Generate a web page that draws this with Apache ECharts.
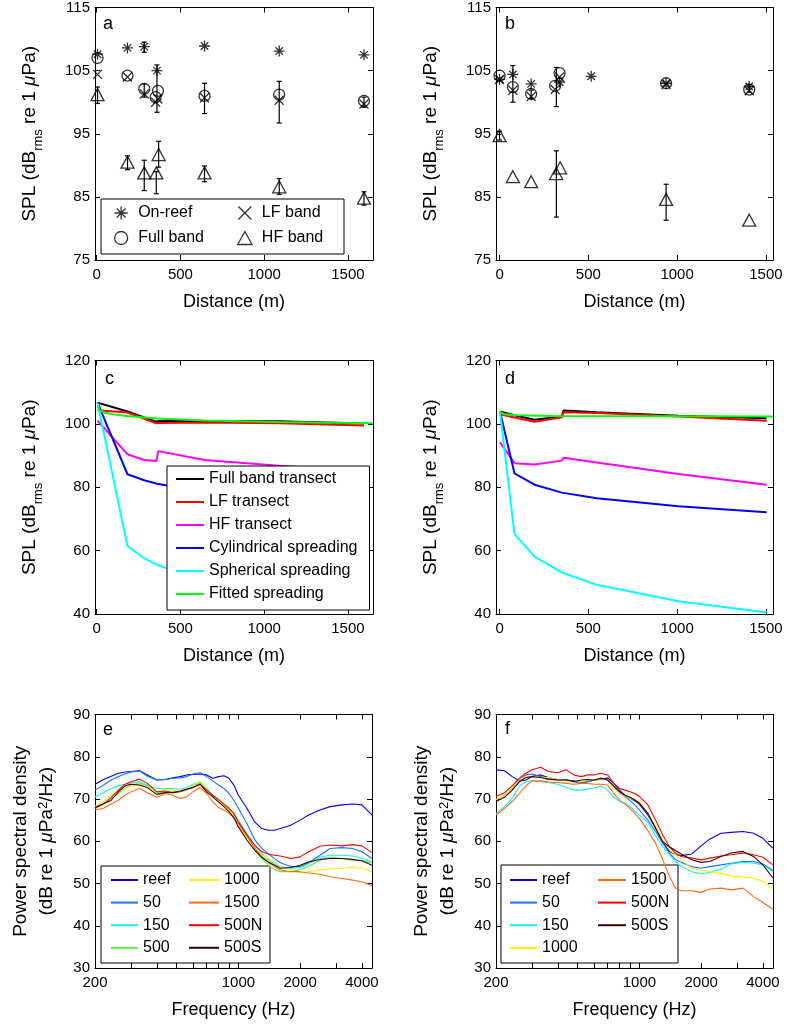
<!DOCTYPE html>
<html><head><meta charset="utf-8">
<script src="https://cdn.jsdelivr.net/npm/echarts@6/dist/echarts.min.js"></script>
<style>html,body{margin:0;padding:0;background:#fff}#c{width:787px;height:1034px}</style>
</head><body><div id="c"></div>
<script>
// ---------- Panel a (distance, m / SPL dB) ----------
const aOnReefX = [5, 184, 284, 360, 644, 1090, 1596];
const aOnReefY = [107.6, 108.6, 108.8, 105.0, 108.9, 108.1, 107.5];
const aFullX = [5, 184, 284, 352, 366, 644, 1090, 1596];
const aFullY = [107.0, 104.2, 102.1, 100.8, 101.8, 101.0, 101.2, 100.2];
const aLFX = [5, 184, 284, 352, 366, 644, 1090, 1596];
const aLFY = [104.4, 104.0, 101.3, 100.0, 100.5, 100.7, 100.3, 99.7];
const aHFX = [5, 184, 284, 356, 370, 644, 1090, 1596];
const aHFY = [101.2, 90.5, 88.8, 88.8, 91.7, 88.8, 86.6, 84.8];
const aErrX  = [5, 184, 284, 284, 284, 360, 356, 370, 644, 644, 1090, 1090, 1596, 1596];
const aErrLo = [99.8, 89.3, 107.9, 100.8, 86.0, 98.4, 85.5, 89.7, 98.2, 87.4, 96.7, 85.4, 99.2, 83.7];
const aErrHi = [102.4, 91.5, 109.5, 102.9, 90.8, 105.9, 89.0, 93.8, 103.0, 89.9, 103.3, 87.9, 100.8, 85.8];

// ---------- Panel b ----------
const bOnReefX = [0, 75, 178, 338, 516, 938, 1406];
const bOnReefY = [103.6, 104.4, 102.9, 103.2, 104.1, 103.0, 102.5];
const bFullX = [0, 75, 178, 313, 338, 938, 1406];
const bFullY = [104.2, 102.4, 101.3, 102.6, 104.6, 103.0, 102.0];
const bLFX = [0, 75, 178, 313, 338, 938, 1406];
const bLFY = [103.6, 101.9, 100.9, 102.0, 104.0, 102.8, 101.8];
const bHFX = [0, 75, 178, 319, 341, 938, 1406];
const bHFY = [94.7, 88.2, 87.4, 88.7, 89.6, 84.6, 81.3];
const bErrX  = [0, 75, 178, 320, 320, 938, 1406];
const bErrLo = [94.0, 100.0, 100.6, 99.3, 81.8, 81.3, 101.6];
const bErrHi = [95.4, 105.8, 101.9, 105.5, 92.3, 87.0, 102.8];

// ---------- Panel c ----------
const cDist = [5, 184, 284, 356, 368, 644, 1090, 1596];
const cFull = [106.7, 103.9, 102.0, 100.7, 100.9, 100.9, 100.8, 100.1];
const cLF   = [104.3, 103.6, 101.6, 100.2, 100.3, 100.4, 100.2, 99.5];
const cHF   = [101.0, 90.4, 88.6, 88.3, 91.4, 88.6, 86.8, 85.0];
const cCyl  = [106.7, 84.1, 82.2, 81.2, 81.0, 78.6, 76.3, 74.7];
const cSph  = [106.7, 61.4, 57.6, 55.6, 55.4, 50.5, 45.9, 42.6];
const cFitX = [5, 20, 50, 100, 180, 360, 640, 1090, 1650];
const cFit  = [105.5, 104.2, 103.5, 103.0, 102.5, 101.7, 101.1, 100.6, 100.2];

// ---------- Panel d ----------
const dDist = [2, 84, 197, 351, 360, 547, 1007, 1504];
const dFull = [103.9, 102.7, 101.3, 102.3, 104.2, 103.7, 102.6, 101.8];
const dLF   = [103.0, 102.0, 100.7, 102.1, 103.7, 103.4, 102.3, 101.0];
const dHF   = [94.2, 87.6, 87.2, 88.4, 89.3, 87.8, 84.2, 80.8];
const dCyl  = [104.0, 84.4, 80.8, 78.3, 78.2, 76.5, 74.0, 72.1];
const dSph  = [104.0, 65.3, 58.1, 53.1, 52.9, 49.2, 44.0, 40.5];
const dFitX = [2, 30, 100, 300, 1000, 1540];
const dFit  = [103.8, 103.0, 102.7, 102.5, 102.4, 102.3];

// ---------- Panels e, f (frequency, Hz / PSD) ----------
const freqHz = [200, 220, 240, 260, 280, 300, 330, 360, 400, 440, 480, 520, 560, 600, 650, 700, 750, 800, 850, 900, 950, 1000, 1100, 1200, 1300, 1400, 1500, 1600, 1800, 2000, 2200, 2500, 2800, 3200, 3600, 4000, 4480];
const eReef = [73.5, 74.6, 75.4, 76.1, 76.4, 76.5, 76.7, 75.7, 74.5, 74.6, 75.0, 75.3, 75.7, 75.8, 75.9, 75.7, 74.9, 75.3, 75.5, 74.9, 73.3, 70.9, 67.8, 64.6, 63.0, 62.6, 62.6, 63.0, 63.8, 65.0, 66.2, 67.4, 68.2, 68.6, 68.8, 68.6, 66.2];
const e50   = [72.1, 73.3, 74.5, 75.3, 75.9, 76.4, 76.7, 75.4, 74.5, 74.6, 74.9, 75.0, 75.3, 75.9, 76.2, 75.3, 74.3, 73.3, 72.5, 71.3, 69.7, 67.8, 64.2, 60.4, 58.3, 57.0, 55.9, 54.9, 54.0, 54.0, 54.9, 56.7, 58.3, 58.5, 58.3, 57.5, 55.9];
const e150  = [70.5, 71.5, 72.5, 73.1, 73.5, 73.8, 74.1, 73.3, 72.5, 72.5, 72.5, 72.3, 72.7, 73.5, 74.1, 72.5, 70.9, 69.7, 68.8, 67.8, 66.6, 65.0, 61.8, 59.1, 57.1, 55.5, 54.7, 54.0, 53.6, 53.8, 54.7, 56.2, 56.7, 56.7, 56.5, 55.9, 55.1];
const e500  = [68.0, 68.9, 70.1, 71.3, 72.5, 73.3, 73.8, 73.1, 71.5, 71.7, 71.7, 71.7, 72.1, 73.1, 73.8, 72.1, 70.7, 69.6, 68.6, 67.5, 66.2, 64.2, 61.1, 58.3, 55.9, 54.3, 53.3, 52.8, 52.8, 53.3, 54.1, 55.5, 56.2, 55.9, 55.5, 55.4, 54.9];
const e1000 = [68.3, 69.3, 70.9, 72.1, 72.7, 73.1, 73.3, 72.7, 71.7, 72.3, 72.1, 71.7, 72.3, 73.1, 74.3, 72.1, 70.5, 69.6, 68.8, 67.5, 66.0, 64.1, 61.1, 58.3, 56.7, 55.9, 55.1, 54.1, 53.2, 52.5, 52.8, 53.2, 53.5, 53.6, 53.8, 53.6, 52.8];
const e1500 = [67.4, 67.8, 68.8, 69.7, 70.9, 71.7, 72.5, 71.5, 70.4, 71.3, 70.9, 70.1, 70.5, 71.7, 72.7, 71.3, 69.3, 68.0, 67.4, 66.6, 65.6, 64.1, 61.2, 58.5, 56.3, 54.9, 54.0, 53.2, 52.8, 52.8, 52.5, 52.2, 51.6, 51.2, 50.8, 50.4, 49.5];
const e500N = [67.8, 68.8, 70.4, 72.1, 73.5, 74.1, 74.7, 73.7, 71.7, 71.9, 71.5, 71.7, 72.3, 72.7, 73.5, 72.1, 70.9, 69.9, 68.8, 67.8, 66.6, 64.6, 61.5, 59.1, 57.5, 57.0, 56.7, 56.5, 55.9, 56.3, 57.5, 58.8, 59.1, 58.9, 59.2, 58.9, 57.3];
const e500S = [68.0, 68.9, 69.7, 71.7, 73.1, 73.5, 73.3, 72.7, 71.1, 71.5, 71.5, 71.9, 72.3, 72.7, 73.5, 71.7, 70.5, 69.3, 68.2, 67.0, 65.6, 63.4, 60.3, 57.9, 56.2, 55.1, 54.3, 53.6, 53.8, 54.3, 55.1, 55.7, 55.9, 55.9, 55.7, 55.4, 54.3];

const fReef = [76.9, 76.7, 75.3, 74.3, 74.5, 75.4, 75.7, 75.1, 74.6, 74.5, 74.3, 73.9, 74.1, 74.5, 74.6, 75.0, 73.7, 72.1, 70.9, 70.2, 69.6, 68.8, 66.2, 63.1, 59.9, 57.6, 56.8, 56.6, 57.0, 58.9, 60.5, 61.9, 62.1, 62.3, 61.9, 60.7, 58.3];
const f50   = [69.8, 70.9, 72.5, 74.5, 75.7, 75.9, 75.3, 74.7, 74.5, 74.5, 74.1, 73.7, 74.1, 74.5, 74.9, 74.5, 72.9, 71.3, 70.6, 69.6, 68.6, 67.4, 65.0, 62.3, 59.5, 57.2, 55.7, 55.0, 54.0, 53.6, 54.0, 54.4, 54.8, 55.2, 55.2, 54.6, 53.1];
const f150  = [66.6, 68.2, 70.2, 73.1, 74.1, 74.3, 74.1, 73.9, 73.5, 72.8, 72.1, 72.1, 72.4, 72.6, 73.1, 72.1, 70.4, 69.4, 69.0, 68.3, 67.2, 66.2, 64.4, 61.3, 58.7, 56.8, 55.2, 54.0, 52.8, 52.3, 52.6, 53.4, 54.6, 55.0, 54.8, 54.4, 52.8];
const f1000 = [69.8, 70.9, 72.5, 74.5, 75.3, 75.4, 75.1, 75.1, 74.6, 74.3, 74.1, 74.1, 74.5, 74.6, 74.5, 74.6, 72.5, 71.3, 70.7, 70.2, 69.9, 69.4, 66.6, 63.5, 60.3, 58.0, 56.8, 55.6, 53.6, 53.1, 52.8, 52.4, 51.8, 51.5, 51.3, 50.5, 48.7];
const f1500 = [66.2, 67.8, 69.4, 71.3, 73.1, 74.3, 74.3, 74.0, 73.9, 73.7, 73.5, 73.7, 73.7, 73.5, 73.5, 73.3, 71.3, 69.8, 68.8, 67.8, 66.6, 65.4, 62.5, 59.5, 55.6, 51.7, 48.9, 48.3, 48.3, 47.9, 48.7, 48.9, 48.5, 48.9, 46.9, 45.5, 43.9];
const f500N = [70.6, 71.5, 73.1, 74.9, 76.1, 76.9, 77.5, 76.5, 76.2, 76.9, 75.7, 75.3, 75.7, 75.7, 76.1, 75.7, 73.7, 72.5, 72.1, 71.7, 71.3, 70.6, 68.6, 65.0, 61.5, 58.7, 57.2, 56.4, 56.0, 55.6, 56.0, 56.5, 56.8, 57.2, 56.8, 56.2, 54.4];
const f500S = [69.4, 70.4, 72.1, 74.1, 75.1, 75.3, 75.1, 74.7, 74.5, 74.5, 74.1, 74.5, 74.6, 74.5, 74.9, 74.5, 73.1, 71.7, 70.9, 70.4, 69.8, 69.0, 66.6, 63.1, 59.9, 58.7, 57.8, 57.0, 55.6, 55.0, 55.2, 56.4, 57.2, 57.6, 56.4, 54.4, 51.3];

// ---------- tick labels ----------
const distTicks = [0, 500, 1000, 1500];
const splTicksAB = [75, 85, 95, 105, 115];
const freqLabels = [200, 1000, 2000, 4000];
const freqTicks = [300, 400, 500, 600, 700, 800, 900, 1000, 2000, 3000, 4000];
const freqMin = 200, freqMax = 4480;

// ---------- build ----------
const FF = "'Liberation Sans', Arial, Helvetica, sans-serif";
const L10 = Math.log10;
const zip = (xs, ys, f) => xs.map((x, i) => [f ? f(x) : x, ys[i]]);
const errs = (xs, lo, hi) => xs.map((x, i) => [x, lo[i], hi[i]]);
const SYM = {
  star: 'path://M5,0L5,10M0,5L10,5M1.6,1.6L8.4,8.4M8.4,1.6L1.6,8.4',
  cross: 'path://M0,0L10,10M10,0L0,10',
  circle: 'path://M0,5A5,5,0,1,1,10,5A5,5,0,1,1,0,5Z',
  tri: 'path://M5,0L10,9L0,9Z'
};

const grids = [
  {left: 95, top: 6, width: 278, height: 254},
  {left: 496, top: 6, width: 277, height: 254},
  {left: 95, top: 360.5, width: 278, height: 253.5},
  {left: 496, top: 360.5, width: 277, height: 253.5},
  {left: 95, top: 714.5, width: 277, height: 253.5},
  {left: 496, top: 714.5, width: 277, height: 253.5}
].map(g => Object.assign({containLabel: false, show: false}, g));

const axLine = {show: true, onZero: false, lineStyle: {color: '#000', width: 1}};
const plainFmt = v => String(v);
function xAxes(gi, min, max, ticks, labels, fmt, name) {
  const base = {gridIndex: gi, type: 'value', min, max, splitLine: {show: false}, axisLine: axLine,
    axisTick: {show: true, inside: true, length: 5, customValues: ticks, lineStyle: {color: '#000'}}};
  return [
    Object.assign({}, base, {position: 'bottom',
      axisLabel: {show: true, customValues: labels, formatter: fmt, color: '#000', fontSize: 15, fontFamily: FF, margin: 7},
      name, nameLocation: 'middle', nameGap: 33, nameTextStyle: {color: '#000', fontSize: 18, fontFamily: FF}}),
    Object.assign({}, base, {position: 'top', axisLabel: {show: false}})
  ];
}
function yAxes(gi, min, max, ticks, name, gap, rich) {
  const base = {gridIndex: gi, type: 'value', min, max, splitLine: {show: false}, axisLine: axLine,
    axisTick: {show: true, inside: true, length: 5, customValues: ticks, lineStyle: {color: '#000'}}};
  return [
    Object.assign({}, base, {position: 'left',
      axisLabel: {show: true, customValues: ticks, formatter: plainFmt, color: '#000', fontSize: 15, fontFamily: FF, margin: 5},
      name, nameLocation: 'middle', nameGap: gap, nameTextStyle: {color: '#000', fontFamily: FF, rich}}),
    Object.assign({}, base, {position: 'right', axisLabel: {show: false}})
  ];
}
const tokBase = {fontFamily: FF, color: '#000'};
const splName = '{n|SPL (dB}{s|rms}{n| re 1 }{i|μ}{n|Pa)}';
const splRich = {
  n: Object.assign({fontSize: 19, lineHeight: 22, verticalAlign: 'top'}, tokBase),
  s: Object.assign({fontSize: 13, lineHeight: 14, padding: [12, 0, 0, 0], verticalAlign: 'top'}, tokBase),
  i: Object.assign({fontSize: 19, lineHeight: 22, verticalAlign: 'top', fontStyle: 'italic'}, tokBase)
};
const psdName = '{n|Power spectral density}\n{n|(dB re 1 }{i|μ}{n|Pa}{p|2}{n|/Hz)}';
const psdRich = {
  n: Object.assign({fontSize: 19, lineHeight: 26, verticalAlign: 'top'}, tokBase),
  i: Object.assign({fontSize: 19, lineHeight: 26, verticalAlign: 'top', fontStyle: 'italic'}, tokBase),
  p: Object.assign({fontSize: 13, lineHeight: 10, verticalAlign: 'top'}, tokBase)
};
const freqFmt = v => String(Math.round(Math.pow(10, v)));

const xAxis = [].concat(
  xAxes(0, -10, 1650, distTicks, distTicks, plainFmt, 'Distance (m)'),
  xAxes(1, -20, 1540, distTicks, distTicks, plainFmt, 'Distance (m)'),
  xAxes(2, -10, 1650, distTicks, distTicks, plainFmt, 'Distance (m)'),
  xAxes(3, -20, 1540, distTicks, distTicks, plainFmt, 'Distance (m)'),
  xAxes(4, L10(freqMin), L10(freqMax), freqTicks.map(L10), freqLabels.map(L10), freqFmt, 'Frequency (Hz)'),
  xAxes(5, L10(freqMin), L10(freqMax), freqTicks.map(L10), freqLabels.map(L10), freqFmt, 'Frequency (Hz)')
);
const t40 = [40, 60, 80, 100, 120], t30 = [30, 40, 50, 60, 70, 80, 90];
const yAxis = [].concat(
  yAxes(0, 75, 115, splTicksAB, splName, 53, splRich),
  yAxes(1, 75, 115, splTicksAB, splName, 53, splRich),
  yAxes(2, 40, 120, t40, splName, 53, splRich),
  yAxes(3, 40, 120, t40, splName, 53, splRich),
  yAxes(4, 30, 90, t30, psdName, 32, psdRich),
  yAxes(5, 30, 90, t30, psdName, 32, psdRich)
);

function scat(name, gi, xs, ys, sym, size) {
  return {type: 'scatter', name, xAxisIndex: 2 * gi, yAxisIndex: 2 * gi, data: zip(xs, ys), symbol: sym, symbolSize: size,
    itemStyle: {color: 'rgba(0,0,0,0)', borderColor: '#000', borderWidth: 1.3}, emphasis: {disabled: true}};
}
function errRender(params, api) {
  const x = api.value(0), lo = api.value(1), hi = api.value(2);
  const p1 = api.coord([x, lo]), p2 = api.coord([x, hi]);
  const w = 2.5, st = {stroke: '#000', lineWidth: 1.2};
  return {type: 'group', children: [
    {type: 'line', shape: {x1: p1[0], y1: p1[1], x2: p2[0], y2: p2[1]}, style: st},
    {type: 'line', shape: {x1: p1[0] - w, y1: p1[1], x2: p1[0] + w, y2: p1[1]}, style: st},
    {type: 'line', shape: {x1: p2[0] - w, y1: p2[1], x2: p2[0] + w, y2: p2[1]}, style: st}
  ]};
}
function errS(gi, data) {
  return {type: 'custom', xAxisIndex: 2 * gi, yAxisIndex: 2 * gi, data, encode: {x: 0, y: [1, 2]}, renderItem: errRender, silent: true};
}
function ln(name, gi, data, color, w) {
  return {type: 'line', name, xAxisIndex: 2 * gi, yAxisIndex: 2 * gi, data, symbol: 'none', showSymbol: false,
    color, lineStyle: {color, width: w}, emphasis: {disabled: true}};
}
const C = {reef: '#0000e8', '50': '#1a72ff', '150': '#10f0ff', '500': '#55ee44', '1000': '#f5f500', '1500': '#ff6a10', '500N': '#ff0000', '500S': '#3a0000'};

const series = [
  errS(0, errs(aErrX, aErrLo, aErrHi)),
  scat('On-reef', 0, aOnReefX, aOnReefY, SYM.star, 11),
  scat('Full band', 0, aFullX, aFullY, SYM.circle, 11),
  scat('LF band', 0, aLFX, aLFY, SYM.cross, 9),
  scat('HF band', 0, aHFX, aHFY, SYM.tri, [13, 12]),
  errS(1, errs(bErrX, bErrLo, bErrHi)),
  scat('On-reef', 1, bOnReefX, bOnReefY, SYM.star, 11),
  scat('Full band', 1, bFullX, bFullY, SYM.circle, 11),
  scat('LF band', 1, bLFX, bLFY, SYM.cross, 9),
  scat('HF band', 1, bHFX, bHFY, SYM.tri, [13, 12]),
  ln('Full band transect', 2, zip(cDist, cFull), '#000000', 2),
  ln('LF transect', 2, zip(cDist, cLF), '#ff0000', 2),
  ln('HF transect', 2, zip(cDist, cHF), '#ff00ff', 2),
  ln('Cylindrical spreading', 2, zip(cDist, cCyl), '#0000ff', 2),
  ln('Spherical spreading', 2, zip(cDist, cSph), '#00ffff', 2),
  ln('Fitted spreading', 2, zip(cFitX, cFit), '#00ff00', 2),
  ln('Full band transect', 3, zip(dDist, dFull), '#000000', 2),
  ln('LF transect', 3, zip(dDist, dLF), '#ff0000', 2),
  ln('HF transect', 3, zip(dDist, dHF), '#ff00ff', 2),
  ln('Cylindrical spreading', 3, zip(dDist, dCyl), '#0000ff', 2),
  ln('Spherical spreading', 3, zip(dDist, dSph), '#00ffff', 2),
  ln('Fitted spreading', 3, zip(dFitX, dFit), '#00ff00', 2),
  ln('reef', 4, zip(freqHz, eReef, L10), C.reef, 1.1),
  ln('50', 4, zip(freqHz, e50, L10), C['50'], 1.1),
  ln('150', 4, zip(freqHz, e150, L10), C['150'], 1.1),
  ln('500', 4, zip(freqHz, e500, L10), C['500'], 1.1),
  ln('1000', 4, zip(freqHz, e1000, L10), C['1000'], 1.1),
  ln('1500', 4, zip(freqHz, e1500, L10), C['1500'], 1.1),
  ln('500N', 4, zip(freqHz, e500N, L10), C['500N'], 1.1),
  ln('500S', 4, zip(freqHz, e500S, L10), C['500S'], 1.1),
  ln('reef', 5, zip(freqHz, fReef, L10), C.reef, 1.1),
  ln('50', 5, zip(freqHz, f50, L10), C['50'], 1.1),
  ln('150', 5, zip(freqHz, f150, L10), C['150'], 1.1),
  ln('1000', 5, zip(freqHz, f1000, L10), C['1000'], 1.1),
  ln('1500', 5, zip(freqHz, f1500, L10), C['1500'], 1.1),
  ln('500N', 5, zip(freqHz, f500N, L10), C['500N'], 1.1),
  ln('500S', 5, zip(freqHz, f500S, L10), C['500S'], 1.1)
];

const legTxt = {fontSize: 16, color: '#000', fontFamily: FF};
const symLeg = {orient: 'vertical', itemWidth: 24, itemHeight: 13, itemGap: 9, padding: 0, textStyle: legTxt,
  itemStyle: {color: 'rgba(0,0,0,0)', borderColor: '#000', borderWidth: 1.3}, symbolKeepAspect: true, selectedMode: false, z: 5};
const lnLeg = {orient: 'vertical', itemHeight: 14, itemGap: 6.6, padding: 0, textStyle: legTxt, selectedMode: false, z: 5,
  itemStyle: {opacity: 0, borderWidth: 0}, lineStyle: {width: 2}};
const legend = [
  Object.assign({}, symLeg, {data: ['On-reef', 'Full band'], left: 114, top: 205}),
  Object.assign({}, symLeg, {data: ['LF band', 'HF band'], left: 237, top: 205}),
  Object.assign({}, lnLeg, {data: ['Full band transect', 'LF transect', 'HF transect', 'Cylindrical spreading', 'Spherical spreading', 'Fitted spreading'],
    left: 167, top: 466, itemWidth: 28, itemGap: 7, padding: [5, 12, 8, 8], borderColor: '#000', borderWidth: 1, backgroundColor: '#fff'}),
  Object.assign({}, lnLeg, {data: ['reef', '50', '150', '500'], left: 110, top: 872, itemWidth: 27}),
  Object.assign({}, lnLeg, {data: ['1000', '1500', '500N', '500S'], left: 188, top: 872, itemWidth: 30}),
  Object.assign({}, lnLeg, {data: ['reef', '50', '150', '1000'], left: 509, top: 872, itemWidth: 27}),
  Object.assign({}, lnLeg, {data: ['1500', '500N', '500S'], left: 597, top: 872, itemWidth: 28})
];

const boxStyle = {fill: '#fff', stroke: '#000', lineWidth: 1};
const graphic = {elements: [
  {type: 'rect', shape: {x: 101, y: 199, width: 243, height: 55}, style: boxStyle, z: 3, silent: true},
  {type: 'rect', shape: {x: 101, y: 866, width: 169, height: 97}, style: boxStyle, z: 3, silent: true},
  {type: 'rect', shape: {x: 501, y: 865, width: 177, height: 98}, style: boxStyle, z: 3, silent: true}
]};

const titleTxt = {fontSize: 18, fontWeight: 'normal', color: '#000', fontFamily: FF};
const title = [['a', 103, 15], ['b', 505, 15], ['c', 105, 370], ['d', 505, 370], ['e', 103, 721], ['f', 505, 720]]
  .map(([t, l, tp]) => ({text: t, left: l, top: tp, padding: 0, textStyle: titleTxt}));

const chart = echarts.init(document.getElementById('c'), null, {renderer: 'canvas'});
chart.setOption({animation: false, backgroundColor: '#fff', title, grid: grids, xAxis, yAxis, series, legend, graphic});
</script></body></html>
